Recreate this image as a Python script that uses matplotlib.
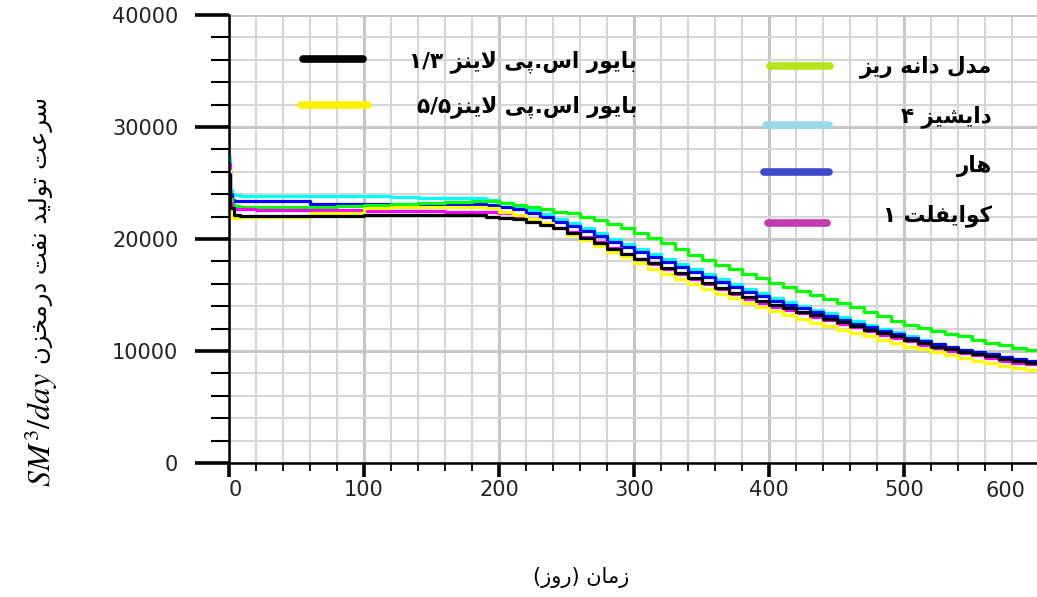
import re
import matplotlib
matplotlib.use('Agg')
import matplotlib.pyplot as plt
from matplotlib.ticker import MultipleLocator, FixedLocator
from matplotlib.lines import Line2D

plt.rcParams['mathtext.fontset'] = 'stix'

# ---------------- data ----------------
days = [0, 1, 2, 4, 8, 20, 40, 60, 80, 100, 120, 140, 160, 180, 190,
        200, 210, 220, 230, 240, 250, 260, 270, 280, 290,
        300, 310, 320, 330, 340, 350, 360, 370, 380, 390,
        400, 410, 420, 430, 440, 450, 460, 470, 480, 490,
        500, 510, 520, 530, 540, 550, 560, 570, 580, 590, 600]

black = [25800, 22800, 22800, 22100, 22060, 22060, 22060, 22060, 22060, 22170, 22170, 22170, 22170, 22170, 22000,
         21900, 21750, 21500, 21250, 20950, 20550, 20100, 19650, 19150, 18700,
         18250, 17850, 17400, 16950, 16500, 16050, 15600, 15200, 14800, 14450,
         14100, 13800, 13500, 13200, 12900, 12600, 12250, 11900, 11600, 11300,
         11000, 10700, 10400, 10150, 9950, 9750, 9550, 9300, 9100, 8950, 8800]

yellow = [26200, 22000, 21900, 21900, 21950, 21950, 22000, 22350, 22350, 22750, 22850, 22850, 22850, 22900, 22800,
          22400, 22150, 21800, 21400, 20950, 20400, 19900, 19400, 18850, 18350,
          17850, 17350, 16900, 16450, 16000, 15550, 15100, 14700, 14300, 13900,
          13550, 13200, 12850, 12500, 12200, 11900, 11600, 11300, 11000, 10700,
          10400, 10150, 9900, 9650, 9400, 9150, 8950, 8700, 8500, 8300, 8100]

green = [25500, 23600, 23100, 22950, 22850, 22850, 22850, 22850, 22950, 23000, 23150, 23200, 23300, 23400, 23350,
         23250, 23050, 22850, 22650, 22450, 22300, 22000, 21700, 21350, 21000,
         20550, 20100, 19600, 19100, 18600, 18100, 17700, 17300, 16900, 16500,
         16100, 15700, 15350, 15000, 14650, 14300, 13900, 13500, 13100, 12700,
         12350, 12050, 11800, 11550, 11300, 11000, 10750, 10500, 10300, 10100, 9950]

cyan = [27300, 24400, 24000, 23900, 23850, 23850, 23800, 23800, 23800, 23800, 23750, 23700, 23700, 23650, 23500,
        23200, 22900, 22600, 22200, 21800, 21400, 20950, 20500, 20000, 19550,
        19100, 18650, 18200, 17750, 17300, 16850, 16400, 15950, 15550, 15150,
        14750, 14400, 14050, 13700, 13350, 13050, 12700, 12350, 12000, 11700,
        11350, 11000, 10650, 10380, 10120, 9900, 9700, 9500, 9300, 9150, 9000]

blue = [26000, 24000, 23500, 23400, 23400, 23400, 23350, 23150, 23100, 23100, 23100, 23100, 23100, 23100, 23050,
        22900, 22650, 22300, 21950, 21550, 21150, 20700, 20250, 19750, 19300,
        18850, 18400, 17950, 17500, 17050, 16600, 16150, 15700, 15300, 14900,
        14500, 14150, 13800, 13450, 13100, 12800, 12450, 12100, 11800, 11500,
        11200, 10900, 10600, 10350, 10100, 9900, 9700, 9500, 9300, 9150, 9000]

magenta = [26700, 23200, 22800, 22700, 22650, 22600, 22550, 22550, 22550, 22500, 22500, 22500, 22450, 22450, 22400,
           22300, 22050, 21750, 21400, 21000, 20600, 20150, 19700, 19200, 18700,
           18200, 17750, 17300, 16850, 16400, 15950, 15500, 15050, 14650, 14300,
           13950, 13650, 13350, 13050, 12750, 12450, 12100, 11750, 11450, 11150,
           10850, 10550, 10250, 10000, 9800, 9600, 9400, 9150, 8950, 8800, 8650]

series_names = ['بایور اس.پی لاینز ۱/۳', 'بایور اس.پی لاینز۵/۵',
                'مدل دانه ریز', 'دایشیز ۴', 'هار', 'کوایفلت ۱']
xticks = [0, 100, 200, 300, 400, 500, 600]
xtick_labels = ['0', '100', '200', '300', '400', '500', '600']
yticks = [0, 10000, 20000, 30000, 40000]
ytick_labels = ['0', '10000', '20000', '30000', '40000']
ylabel_fa = 'سرعت تولید نفت درمخزن'
ylabel_unit = r'$SM^3/day$'
xlabel_fa = 'زمان (روز)'

# ---------------- minimal Persian shaping (presentation forms + visual order) ----------------
FORMS = {
    'ا': ('\uFE8D', '\uFE8E', None, None),
    'ب': ('\uFE8F', '\uFE90', '\uFE91', '\uFE92'),
    'پ': ('\uFB56', '\uFB57', '\uFB58', '\uFB59'),
    'ت': ('\uFE95', '\uFE96', '\uFE97', '\uFE98'),
    'خ': ('\uFEA5', '\uFEA6', '\uFEA7', '\uFEA8'),
    'د': ('\uFEA9', '\uFEAA', None, None),
    'ر': ('\uFEAD', '\uFEAE', None, None),
    'ز': ('\uFEAF', '\uFEB0', None, None),
    'س': ('\uFEB1', '\uFEB2', '\uFEB3', '\uFEB4'),
    'ش': ('\uFEB5', '\uFEB6', '\uFEB7', '\uFEB8'),
    'ع': ('\uFEC9', '\uFECA', '\uFECB', '\uFECC'),
    'ف': ('\uFED1', '\uFED2', '\uFED3', '\uFED4'),
    'ک': ('\uFB8E', '\uFB8F', '\uFB90', '\uFB91'),
    'ل': ('\uFEDD', '\uFEDE', '\uFEDF', '\uFEE0'),
    'م': ('\uFEE1', '\uFEE2', '\uFEE3', '\uFEE4'),
    'ن': ('\uFEE5', '\uFEE6', '\uFEE7', '\uFEE8'),
    'ه': ('\uFEE9', '\uFEEA', '\uFEEB', '\uFEEC'),
    'و': ('\uFEED', '\uFEEE', None, None),
    'ی': ('\uFBFC', '\uFBFD', '\uFBFE', '\uFBFF'),
}


def _dual(c):
    return c in FORMS and FORMS[c][2] is not None


def shape(s):
    out = []
    i, n = 0, len(s)
    while i < n:
        c = s[i]
        if c not in FORMS:
            out.append(c)
            i += 1
            continue
        jp = i > 0 and _dual(s[i - 1])
        if c == 'ل' and i + 1 < n and s[i + 1] == 'ا':
            out.append('\uFEFC' if jp else '\uFEFB')
            i += 2
            continue
        jn = _dual(c) and i + 1 < n and s[i + 1] in FORMS
        iso, fin, ini, med = FORMS[c]
        out.append(med if (jp and jn) else fin if jp else ini if jn else iso)
        i += 1
    return ''.join(out)


MIRROR = {'(': ')', ')': '('}
DIG = '0-9\u06F0-\u06F9'


def rtl(s):
    s = shape(s)
    toks = re.findall(r'[%s]+(?:[/.][%s]+)*|[^%s]+' % (DIG, DIG, DIG), s)
    out = []
    for t in reversed(toks):
        if re.match(r'[%s]' % DIG, t):
            out.append(t)
        else:
            out.append(''.join(MIRROR.get(ch, ch) for ch in reversed(t)))
    return ''.join(out)


# ---------------- figure ----------------
W, H = 1037, 597
fig = plt.figure(figsize=(W / 100, H / 100), dpi=100)
fx = lambda px: px / W
fy = lambda py: 1 - py / H

ax = fig.add_axes([fx(229), fy(463), fx(1037) - fx(229), fy(15) - fy(463)])
ax.set_xlim(0, 598.5)
ax.set_ylim(0, 40000)

lw = 2.3
ax.plot(days, cyan, color='#00ffff', lw=lw, drawstyle='steps-post', solid_capstyle='butt')
ax.plot(days, blue, color='#0000ff', lw=lw, drawstyle='steps-post', solid_capstyle='butt')
ax.plot(days, green, color='#00ff00', lw=lw, drawstyle='steps-post', solid_capstyle='butt')
ax.plot(days, magenta, color='#ff00ff', lw=lw, drawstyle='steps-post', solid_capstyle='butt')
ax.plot(days, yellow, color='#ffff00', lw=lw, drawstyle='steps-post', solid_capstyle='butt')
ax.plot(days, black, color='#000000', lw=lw, drawstyle='steps-post', solid_capstyle='butt')

# grid
ax.set_axisbelow(True)
ax.xaxis.set_major_locator(FixedLocator(xticks[:-1]))
ax.set_xticklabels(xtick_labels[:-1])
ax.xaxis.set_minor_locator(MultipleLocator(20))
ax.yaxis.set_major_locator(FixedLocator(yticks))
ax.set_yticklabels(ytick_labels)
ax.yaxis.set_minor_locator(MultipleLocator(2000))
ax.grid(which='major', color='#c6c6c6', lw=2.2)
ax.grid(which='minor', color='#d6d6d6', lw=1.5)

for s in ['top', 'right']:
    ax.spines[s].set_visible(False)
for s in ['left', 'bottom']:
    ax.spines[s].set_linewidth(1.8)
    ax.spines[s].set_color('black')

ax.tick_params(axis='y', which='major', direction='out', length=24.5, width=2.6, pad=12,
               labelsize=15, labelcolor='#222222')
ax.tick_params(axis='y', which='minor', direction='out', length=13, width=1.5)
ax.tick_params(axis='x', which='major', direction='out', length=10, width=2.6, pad=2,
               labelsize=15, labelcolor='#222222')
ax.tick_params(axis='x', which='minor', direction='out', length=6, width=1.3)
ax.get_xticklabels()[0].set_horizontalalignment('left')

# last x label (600) sits just inside the figure edge
fig.text(fx(1005), fy(491), xtick_labels[-1], ha='center', va='center', fontsize=15, color='#222222')

# axis labels
fig.text(fx(41), fy(487), ylabel_unit, rotation=90, ha='center', va='bottom', fontsize=23)
fig.text(fx(41), fy(364), rtl(ylabel_fa), rotation=90, ha='center', va='bottom', fontsize=17.5,
         family='DejaVu Sans')
fig.text(fx(581), fy(578), rtl(xlabel_fa), ha='center', va='center', fontsize=15, family='DejaVu Sans')

# legend (drawn as in the reference: handle on the left, right-aligned labels)
leg_colors = ['#000000', '#fff200', '#b5e61d', '#99d9ea', '#3f48cc', '#c13caf']
leg_line = [(303, 363, 59), (301, 368, 105), (770, 830, 66), (766, 829, 125), (764, 829, 172), (768, 827, 223)]
leg_text = [(637, 62), (637, 107), (992, 67), (992, 117), (992, 166), (992, 216)]
for c, (x0, x1, yy), (tx, ty), name in zip(leg_colors, leg_line, leg_text, series_names):
    fig.add_artist(Line2D([fx(x0), fx(x1)], [fy(yy), fy(yy)], transform=fig.transFigure,
                          color=c, lw=5.5, solid_capstyle='round'))
    fig.text(fx(tx), fy(ty), rtl(name), ha='right', va='center', fontsize=15.5,
             fontweight='bold', family='DejaVu Sans')

fig.savefig('out.png', dpi=100)
